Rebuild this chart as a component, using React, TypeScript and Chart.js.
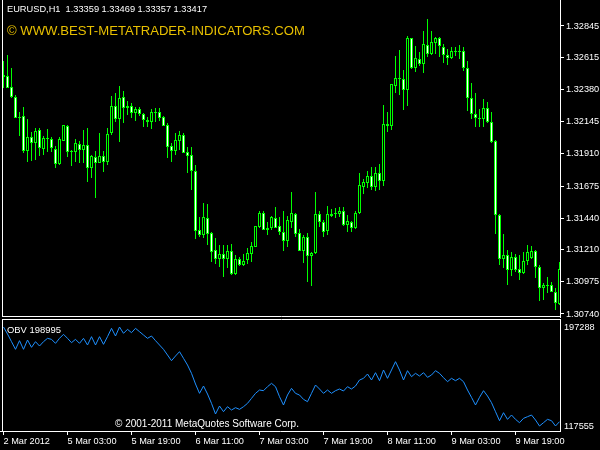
import React, { useEffect, useRef } from 'react';
import { Chart, registerables } from 'chart.js';

Chart.register(...registerables);

// ---- Data (EURUSD H1, 140 bars) ----
const opens = [
  1.32487, 1.32479, 1.32399, 1.32326, 1.32172, 1.32187, 1.31931, 1.32034, 1.31990, 1.32085,
  1.31946, 1.32026, 1.32019, 1.31946, 1.31836, 1.32004, 1.32114, 1.31924, 1.31924, 1.31982,
  1.31939, 1.31975, 1.31807, 1.31887, 1.31844, 1.31895, 1.31851, 1.32063, 1.32260, 1.32165,
  1.32326, 1.32246, 1.32260, 1.32209, 1.32238, 1.32202, 1.32158, 1.32143, 1.32216, 1.32216,
  1.32180, 1.32121, 1.31968, 1.31931, 1.32004, 1.32048, 1.31924, 1.31902, 1.31785, 1.31354,
  1.31317, 1.31441, 1.31332, 1.31208, 1.31142, 1.31178, 1.31142, 1.31200, 1.31032, 1.31142,
  1.31098, 1.31134, 1.31178, 1.31229, 1.31376, 1.31478, 1.31354, 1.31368, 1.31441, 1.31383,
  1.31339, 1.31273, 1.31412, 1.31471, 1.31332, 1.31200, 1.31303, 1.31164, 1.31186, 1.31471,
  1.31412, 1.31346, 1.31471, 1.31471, 1.31471, 1.31493, 1.31390, 1.31412, 1.31368, 1.31478,
  1.31668, 1.31697, 1.31748, 1.31668, 1.31770, 1.31712, 1.32129, 1.32114, 1.32406, 1.32465,
  1.32457, 1.32377, 1.32757, 1.32538, 1.32604, 1.32567, 1.32706, 1.32640, 1.32721, 1.32757,
  1.32691, 1.32633, 1.32611, 1.32662, 1.32655, 1.32662, 1.32538, 1.32319, 1.32202, 1.32172,
  1.32165, 1.32246, 1.32143, 1.32004, 1.31463, 1.31142, 1.31171, 1.31061, 1.31156, 1.31069,
  1.31039, 1.31127, 1.31149, 1.31200, 1.31083, 1.30930, 1.30952, 1.30952, 1.30900, 1.30813,
];
const highs = [
  1.32589, 1.32633, 1.32538, 1.32341, 1.32216, 1.32253, 1.32165, 1.32070, 1.32099, 1.32099,
  1.32041, 1.32092, 1.32034, 1.31968, 1.32034, 1.32121, 1.32121, 1.31939, 1.32019, 1.32004,
  1.32085, 1.32099, 1.31902, 1.31931, 1.32063, 1.31931, 1.32099, 1.32333, 1.32355, 1.32406,
  1.32370, 1.32297, 1.32282, 1.32253, 1.32253, 1.32209, 1.32180, 1.32238, 1.32246, 1.32246,
  1.32187, 1.32136, 1.31990, 1.32063, 1.32077, 1.32063, 1.31960, 1.31960, 1.31829, 1.31449,
  1.31551, 1.31544, 1.31339, 1.31295, 1.31244, 1.31244, 1.31244, 1.31251, 1.31171, 1.31156,
  1.31178, 1.31222, 1.31266, 1.31383, 1.31493, 1.31493, 1.31412, 1.31456, 1.31522, 1.31449,
  1.31493, 1.31456, 1.31632, 1.31478, 1.31361, 1.31317, 1.31332, 1.31193, 1.31632, 1.31493,
  1.31427, 1.31529, 1.31507, 1.31515, 1.31522, 1.31522, 1.31463, 1.31420, 1.31493, 1.31770,
  1.31726, 1.31785, 1.31814, 1.31814, 1.31836, 1.32267, 1.32216, 1.32421, 1.32626, 1.32670,
  1.32523, 1.32772, 1.32757, 1.32699, 1.32655, 1.32808, 1.32896, 1.32808, 1.32765, 1.32765,
  1.32713, 1.32677, 1.32691, 1.32691, 1.32706, 1.32691, 1.32589, 1.32428, 1.32355, 1.32238,
  1.32311, 1.32289, 1.32216, 1.32012, 1.31471, 1.31324, 1.31208, 1.31193, 1.31178, 1.31171,
  1.31193, 1.31244, 1.31237, 1.31208, 1.31098, 1.30966, 1.31010, 1.30974, 1.30930, 1.31120,
];
const lows = [
  1.32392, 1.32392, 1.32319, 1.32172, 1.32041, 1.31917, 1.31851, 1.31858, 1.31865, 1.31895,
  1.31902, 1.31924, 1.31924, 1.31807, 1.31829, 1.32004, 1.31887, 1.31822, 1.31851, 1.31844,
  1.31844, 1.31705, 1.31734, 1.31588, 1.31844, 1.31778, 1.31829, 1.32048, 1.32143, 1.31997,
  1.32136, 1.32194, 1.32172, 1.32150, 1.32187, 1.32107, 1.32107, 1.32092, 1.32143, 1.32150,
  1.32114, 1.31880, 1.31851, 1.31902, 1.31939, 1.31917, 1.31770, 1.31646, 1.31288, 1.31303,
  1.31295, 1.31244, 1.31120, 1.31105, 1.31083, 1.31010, 1.31076, 1.31025, 1.31025, 1.31091,
  1.31091, 1.31105, 1.31120, 1.31229, 1.31368, 1.31354, 1.31317, 1.31354, 1.31368, 1.31317,
  1.31200, 1.31229, 1.31368, 1.31303, 1.31200, 1.31112, 1.30974, 1.30944, 1.31178, 1.31376,
  1.31303, 1.31317, 1.31449, 1.31441, 1.31449, 1.31383, 1.31339, 1.31339, 1.31361, 1.31471,
  1.31617, 1.31661, 1.31646, 1.31639, 1.31646, 1.31675, 1.32070, 1.32085, 1.32355, 1.32341,
  1.32231, 1.32260, 1.32531, 1.32509, 1.32553, 1.32501, 1.32618, 1.32633, 1.32640, 1.32618,
  1.32575, 1.32560, 1.32604, 1.32626, 1.32604, 1.32516, 1.32224, 1.32165, 1.32107, 1.32107,
  1.32107, 1.32136, 1.31990, 1.31324, 1.31098, 1.31076, 1.30952, 1.31017, 1.31047, 1.30988,
  1.31032, 1.31098, 1.31142, 1.31003, 1.30835, 1.30842, 1.30893, 1.30900, 1.30769, 1.30805,
];
const closes = [
  1.32472, 1.32392, 1.32326, 1.32172, 1.32180, 1.31931, 1.32034, 1.31990, 1.32077, 1.31953,
  1.32026, 1.32019, 1.31953, 1.31836, 1.32019, 1.32121, 1.31924, 1.31931, 1.31990, 1.31939,
  1.31975, 1.31807, 1.31895, 1.31844, 1.31895, 1.31851, 1.32055, 1.32260, 1.32165, 1.32319,
  1.32246, 1.32260, 1.32209, 1.32238, 1.32202, 1.32158, 1.32143, 1.32216, 1.32209, 1.32172,
  1.32114, 1.31960, 1.31931, 1.32012, 1.32048, 1.31917, 1.31895, 1.31785, 1.31346, 1.31317,
  1.31449, 1.31324, 1.31193, 1.31142, 1.31178, 1.31142, 1.31200, 1.31032, 1.31142, 1.31098,
  1.31127, 1.31186, 1.31237, 1.31383, 1.31478, 1.31354, 1.31368, 1.31449, 1.31368, 1.31339,
  1.31273, 1.31427, 1.31478, 1.31324, 1.31200, 1.31303, 1.31164, 1.31186, 1.31471, 1.31412,
  1.31339, 1.31471, 1.31456, 1.31478, 1.31493, 1.31390, 1.31420, 1.31368, 1.31478, 1.31683,
  1.31705, 1.31748, 1.31668, 1.31770, 1.31712, 1.32129, 1.32114, 1.32421, 1.32465, 1.32457,
  1.32377, 1.32757, 1.32538, 1.32611, 1.32567, 1.32713, 1.32640, 1.32728, 1.32757, 1.32699,
  1.32633, 1.32611, 1.32662, 1.32655, 1.32662, 1.32538, 1.32319, 1.32202, 1.32172, 1.32165,
  1.32246, 1.32143, 1.31997, 1.31463, 1.31142, 1.31171, 1.31061, 1.31156, 1.31061, 1.31039,
  1.31127, 1.31193, 1.31200, 1.31083, 1.30930, 1.30952, 1.30944, 1.30900, 1.30820, 1.31069,
];
const obvValues = [
  197288, 191648, 185472, 179297, 186278, 179297, 186815, 180908, 185472, 181982,
  185472, 188158, 187352, 184130, 188158, 191380, 188158, 184667, 187352, 184130,
  188158, 182788, 189500, 182788, 189500, 183325, 189500, 196213, 190037, 197288,
  192185, 195407, 192722, 196213, 193528, 190843, 188158, 190037, 186278, 182788,
  179297, 174733, 170168, 173927, 177418, 172048, 166678, 159965, 151373, 143855,
  149762, 143318, 135800, 127208, 133652, 129088, 133115, 130430, 132310, 130967,
  133115, 135800, 139828, 143855, 146540, 146003, 149225, 151910, 149225, 141170,
  134458, 142513, 147883, 143855, 142513, 139022, 137143, 143855, 150568, 147346,
  143855, 146540, 143855, 146003, 147346, 145735, 149225, 147346, 149762, 154595,
  155938, 159428, 154595, 160502, 154058, 162650, 155938, 162650, 169363, 162650,
  154595, 162113, 157280, 159965, 157817, 160502, 156743, 158623, 162113, 159965,
  156475, 153253, 155938, 154058, 155938, 153253, 146540, 140633, 134458, 140633,
  146003, 141707, 136337, 129088, 121838, 128282, 122912, 126403, 122912, 120227,
  123718, 125060, 126403, 122375, 117555, 120227, 122912, 121838, 117555, 121033,
];
const timeLabels = [
  '2 Mar 2012', '5 Mar 03:00', '5 Mar 19:00', '6 Mar 11:00', '7 Mar 03:00',
  '7 Mar 19:00', '8 Mar 11:00', '9 Mar 03:00', '9 Mar 19:00',
];
const timeLabelBars = [0, 16, 32, 48, 64, 80, 96, 112, 128];
const priceTicks = [1.3074, 1.30975, 1.3121, 1.3144, 1.31675, 1.3191, 1.32145, 1.3238, 1.32615, 1.32845];
const obvTicks = [117555, 197288];
const headerText = 'EURUSD,H1  1.33359 1.33469 1.33357 1.33417';
const watermarkText = '\u00A9 WWW.BEST-METATRADER-INDICATORS.COM';
const obvTitle = 'OBV 198995';
const copyrightText = '\u00A9 2001-2011 MetaQuotes Software Corp.';

const FONT = '"Liberation Sans", Arial, sans-serif';
const X_MIN = -0.875;
const X_MAX = 139.125;

function fitText(ctx: CanvasRenderingContext2D, text: string, width: number, x: number, y: number) {
  ctx.font = `10px ${FONT}`;
  const w = ctx.measureText(text).width;
  const size = (10 * width) / w;
  ctx.font = `${size.toFixed(2)}px ${FONT}`;
  ctx.fillText(text, x, y);
}

export default function App() {
  const priceRef = useRef<HTMLCanvasElement | null>(null);
  const obvRef = useRef<HTMLCanvasElement | null>(null);

  useEffect(() => {
    const bodies = opens.map((o, i) => ({ x: i, y: [o, closes[i]] }));
    const wicks = lows.map((l, i) => ({ x: i, y: [l, highs[i]] }));
    const bodyFill = opens.map((o, i) => (closes[i] < o ? '#ffffff' : '#000000'));

    const priceOverlay = {
      id: 'priceOverlay',
      afterDraw(chart: any) {
        const ctx = chart.ctx;
        ctx.save();
        ctx.strokeStyle = '#ffffff';
        ctx.lineWidth = 1;
        ctx.beginPath();
        ctx.moveTo(2.5, 0);
        ctx.lineTo(2.5, 317);
        ctx.moveTo(2, 316.5);
        ctx.lineTo(561, 316.5);
        ctx.stroke();
        ctx.textBaseline = 'middle';
        ctx.textAlign = 'left';
        ctx.fillStyle = '#ffffff';
        fitText(ctx, headerText, 200, 7, 9.5);
        ctx.fillStyle = '#E8C000';
        fitText(ctx, watermarkText, 298, 7, 31);
        ctx.restore();
      },
    };

    const obvOverlay = {
      id: 'obvOverlay',
      afterDraw(chart: any) {
        const ctx = chart.ctx;
        ctx.save();
        ctx.strokeStyle = '#ffffff';
        ctx.lineWidth = 1;
        ctx.beginPath();
        ctx.moveTo(2.5, 1);
        ctx.lineTo(2.5, 114);
        ctx.moveTo(2, 1.5);
        ctx.lineTo(561, 1.5);
        ctx.stroke();
        ctx.textBaseline = 'middle';
        ctx.textAlign = 'left';
        ctx.fillStyle = '#ffffff';
        fitText(ctx, obvTitle, 54, 7, 12);
        fitText(ctx, copyrightText, 184, 115, 106.5);
        ctx.restore();
      },
    };

    const priceChart = new Chart(priceRef.current as HTMLCanvasElement, {
      type: 'bar',
      data: {
        datasets: [
          {
            label: 'body',
            data: bodies as any,
            backgroundColor: bodyFill,
            borderColor: '#00ff00',
            borderWidth: 1,
            borderSkipped: false,
            barThickness: 3,
            maxBarThickness: 3,
            grouped: false,
            inflateAmount: 0,
          } as any,
          {
            label: 'wick',
            data: wicks as any,
            backgroundColor: '#00ff00',
            borderWidth: 0,
            barThickness: 1,
            maxBarThickness: 1,
            grouped: false,
            inflateAmount: 0,
          } as any,
        ],
      },
      options: {
        responsive: false,
        animation: false,
        devicePixelRatio: 1,
        events: [],
        layout: { padding: { left: 0, right: 0, top: 0, bottom: 1 } },
        plugins: { legend: { display: false }, tooltip: { enabled: false } },
        scales: {
          x: { type: 'linear', min: X_MIN, max: X_MAX, offset: false, display: false },
          y: {
            type: 'linear',
            position: 'right',
            min: 1.30718,
            max: 1.33035,
            border: { display: true, color: '#ffffff', width: 1 },
            grid: { display: true, drawOnChartArea: false, drawTicks: true, tickLength: 4, tickColor: '#ffffff', color: '#ffffff' },
            ticks: {
              color: '#ffffff',
              padding: 2,
              font: { family: FONT, size: 9.2 },
              callback: (v: any) => Number(v).toFixed(5),
            },
            afterBuildTicks: (s: any) => {
              s.ticks = priceTicks.map((v) => ({ value: v }));
            },
            afterFit: (s: any) => {
              s.width = 40;
              s.paddingTop = 0;
              s.paddingBottom = 0;
            },
          },
        },
      } as any,
      plugins: [priceOverlay],
    });

    const obvChart = new Chart(obvRef.current as HTMLCanvasElement, {
      type: 'line',
      data: {
        datasets: [
          {
            label: 'OBV',
            data: obvValues.map((v, i) => ({ x: i, y: v })),
            borderColor: '#1E90FF',
            borderWidth: 1,
            pointRadius: 0,
            tension: 0,
            fill: false,
          },
        ],
      },
      options: {
        responsive: false,
        animation: false,
        devicePixelRatio: 1,
        events: [],
        layout: { padding: { left: 0, right: 0, top: 2, bottom: 0 } },
        plugins: { legend: { display: false }, tooltip: { enabled: false } },
        scales: {
          x: {
            type: 'linear',
            position: 'bottom',
            min: X_MIN,
            max: X_MAX,
            offset: false,
            border: { display: true, color: '#ffffff', width: 1 },
            grid: { display: true, drawOnChartArea: false, drawTicks: true, tickLength: 4, tickColor: '#ffffff', color: '#ffffff' },
            ticks: {
              color: '#ffffff',
              padding: 1,
              align: 'start',
              autoSkip: false,
              maxRotation: 0,
              minRotation: 0,
              font: { family: FONT, size: 9.2 },
              callback: (v: any) => {
                const k = timeLabelBars.indexOf(Number(v));
                return k >= 0 ? timeLabels[k] : '';
              },
            },
            afterBuildTicks: (s: any) => {
              s.ticks = timeLabelBars.map((v) => ({ value: v }));
            },
            afterFit: (s: any) => {
              s.height = 19;
              s.paddingLeft = 0;
              s.paddingRight = 0;
            },
          },
          y: {
            type: 'linear',
            position: 'right',
            min: 113528,
            max: 202926,
            border: { display: true, color: '#ffffff', width: 1 },
            grid: { display: false, drawTicks: false, tickLength: 0 },
            ticks: {
              color: '#ffffff',
              padding: 4,
              font: { family: FONT, size: 9.2 },
              callback: (v: any) => String(Math.round(Number(v))),
            },
            afterBuildTicks: (s: any) => {
              s.ticks = obvTicks.map((v) => ({ value: v }));
            },
            afterFit: (s: any) => {
              s.width = 40;
              s.paddingTop = 0;
              s.paddingBottom = 0;
            },
          },
        },
      } as any,
      plugins: [obvOverlay],
    });

    return () => {
      priceChart.destroy();
      obvChart.destroy();
    };
  }, []);

  return (
    <div
      style={{
        position: 'fixed',
        left: 0,
        top: 0,
        width: 600,
        height: 450,
        background: '#000000',
        overflow: 'hidden',
      }}
    >
      <canvas
        ref={priceRef}
        width={600}
        height={318}
        style={{ position: 'absolute', left: 0, top: 0, display: 'block' }}
      />
      <canvas
        ref={obvRef}
        width={600}
        height={132}
        style={{ position: 'absolute', left: 0, top: 318, display: 'block' }}
      />
    </div>
  );
}
